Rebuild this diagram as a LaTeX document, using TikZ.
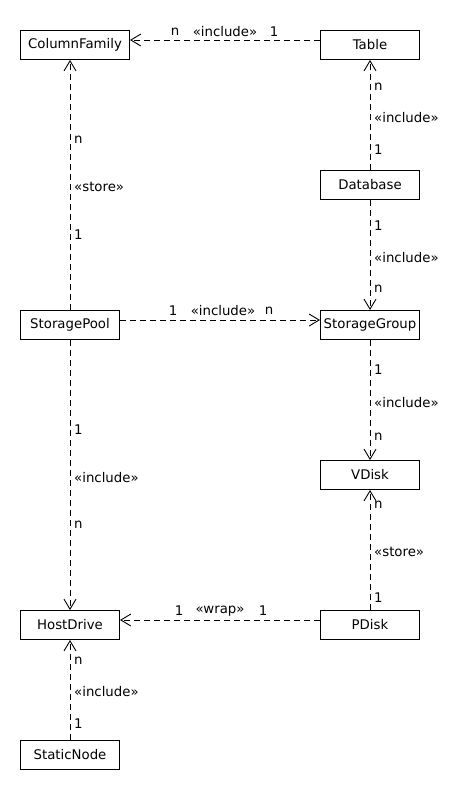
\documentclass[tikz,border=0pt]{standalone}
\usepackage{fontspec}
\setmainfont{DejaVu Sans}
\usetikzlibrary{arrows.meta,calc}
\tikzset{
  cls/.style={draw,line width=1pt,rectangle,anchor=north west,minimum width=99pt,minimum height=29pt,inner sep=0pt,font=\fontsize{13.3}{15}\selectfont},
  dep/.style={line width=0.9pt,dash pattern=on 6pt off 4pt,-{Straight Barb[length=10pt,width=12pt,line width=0.9pt]}},
  lbl/.style={inner sep=0pt,font=\fontsize{13.3}{15}\selectfont},
  vl/.style={lbl,anchor=west}
}
\begin{document}
\begin{tikzpicture}[x=1pt,y=-1pt]
\useasboundingbox (0,0) rectangle (470,790);
\node[cls,minimum width=109pt] (CF) at (20,30) {ColumnFamily};
\node[cls] (TB) at (320,30) {Table};
\node[cls] (DB) at (320,170) {Database};
\node[cls] (SP) at (20,310) {StoragePool};
\node[cls] (SG) at (320,310) {StorageGroup};
\node[cls] (VD) at (320,460) {VDisk};
\node[cls] (HD) at (20,610) {HostDrive};
\node[cls] (PD) at (320,610) {PDisk};
\node[cls] (SN) at (20,740) {StaticNode};
% horizontal
\draw[dep] ($(TB.north west)+(0,10)$) -- ($(CF.north east)+(0,10)$);
\draw[dep] ($(SP.north east)+(0,10)$) -- ($(SG.north west)+(0,10)$);
\draw[dep] ($(PD.north west)+(0,10)$) -- ($(HD.north east)+(0,10)$);
% vertical
\draw[dep] (SP.north) -- (SP.north |- CF.south);
\draw[dep] (DB.north) -- (TB.south);
\draw[dep] (DB.south) -- (SG.north);
\draw[dep] (SG.south) -- (VD.north);
\draw[dep] (PD.north) -- (VD.south);
\draw[dep] (SP.south) -- (HD.north);
\draw[dep] (SN.north) -- (HD.south);
% horizontal labels
\node[lbl] (l1) at (175,32) {n};
\node[lbl] (l2) at (225,32) {«include»};
\node[lbl] (l3) at (274,32) {1};
\node[lbl] (l4) at (173,311) {1};
\node[lbl] (l5) at (223,311) {«include»};
\node[lbl] (l6) at (269,311) {n};
\node[lbl] (l7) at (179,611) {1};
\node[lbl] (l8) at (220,611) {«wrap»};
\node[lbl] (l9) at (263,611) {1};
% vertical labels
\node[vl] (a1) at (74,140) {n};
\node[vl] (a2) at (74,187) {«store»};
\node[vl] (a3) at (74,235) {1};
\node[vl] (b1) at (374,87) {n};
\node[vl] (b2) at (374,118) {«include»};
\node[vl] (b3) at (374,150) {1};
\node[vl] (c1) at (374,226) {1};
\node[vl] (c2) at (374,258) {«include»};
\node[vl] (c3) at (374,289) {n};
\node[vl] (d1) at (374,370) {1};
\node[vl] (d2) at (374,403) {«include»};
\node[vl] (d3) at (374,437) {n};
\node[vl] (e1) at (374,505) {n};
\node[vl] (e2) at (374,552) {«store»};
\node[vl] (e3) at (374,598) {1};
\node[vl] (f1) at (74,430) {1};
\node[vl] (f2) at (74,478) {«include»};
\node[vl] (f3) at (74,525) {n};
\node[vl] (g1) at (74,661) {n};
\node[vl] (g2) at (74,692) {«include»};
\node[vl] (g3) at (74,724) {1};
\end{tikzpicture}
\end{document}
